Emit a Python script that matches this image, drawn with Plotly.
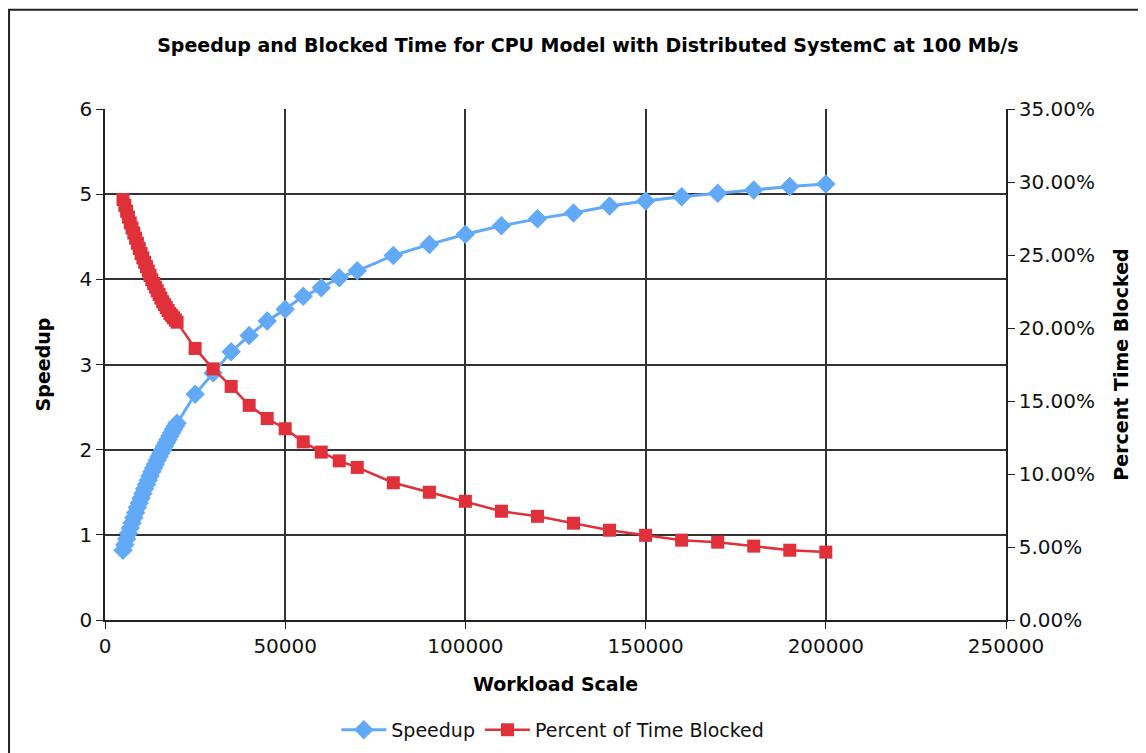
import plotly.graph_objects as go

workload = [5000, 5500, 6000, 6500, 7000, 7500, 8000, 8500, 9000, 9500, 10000,
            10500, 11000, 11500, 12000, 12500, 13000, 13500, 14000, 14500, 15000,
            15500, 16000, 16500, 17000, 17500, 18000, 18500, 19000, 19500, 20000,
            25000, 30000, 35000, 40000, 45000,
            50000, 55000, 60000, 65000, 70000, 80000, 90000, 100000, 110000, 120000,
            130000, 140000, 150000, 160000, 170000, 180000, 190000, 200000]

speedup = [0.82, 0.885, 0.95, 1.015, 1.08, 1.14, 1.20, 1.26, 1.32, 1.375, 1.43,
           1.485, 1.54, 1.59, 1.64, 1.69, 1.74, 1.785, 1.83, 1.875, 1.92,
           1.96, 2.00, 2.04, 2.08, 2.12, 2.16, 2.20, 2.24, 2.275, 2.31,
           2.65, 2.90, 3.15, 3.34, 3.51,
           3.65, 3.80, 3.90, 4.02, 4.10, 4.28, 4.41, 4.53, 4.63, 4.71,
           4.78, 4.86, 4.92, 4.97, 5.01, 5.05, 5.09, 5.12]

blocked = [0.288, 0.284, 0.280, 0.276, 0.272, 0.2685, 0.265, 0.2615, 0.258, 0.2545, 0.251,
           0.248, 0.245, 0.242, 0.239, 0.236, 0.233, 0.2305, 0.228, 0.2255, 0.223,
           0.2205, 0.218, 0.216, 0.214, 0.212, 0.210, 0.2085, 0.207, 0.2055, 0.204,
           0.186, 0.172, 0.160, 0.147, 0.138,
           0.131, 0.122, 0.115, 0.109, 0.1045, 0.094, 0.0875, 0.0813, 0.0745, 0.071,
           0.0663, 0.0615, 0.058, 0.0547, 0.0533, 0.0506, 0.0478, 0.0465]

title_text = "Speedup and Blocked Time for CPU Model with Distributed SystemC at 100 Mb/s"
x_ticks = [0, 50000, 100000, 150000, 200000, 250000]
y_ticks = [0, 1, 2, 3, 4, 5, 6]
y2_ticks = [0, 0.05, 0.10, 0.15, 0.20, 0.25, 0.30, 0.35]

BLUE = "#62a9f7"
RED = "#e0303a"
FONT = "DejaVu Sans"

fig = go.Figure()
fig.add_trace(go.Scatter(
    x=workload, y=speedup, name="Speedup", mode="lines+markers",
    line=dict(color=BLUE, width=3),
    marker=dict(symbol="diamond", size=15, color=BLUE),
))
fig.add_trace(go.Scatter(
    x=workload, y=blocked, name="Percent of Time Blocked", mode="lines+markers",
    yaxis="y2",
    line=dict(color=RED, width=2.5),
    marker=dict(symbol="square", size=13, color=RED),
))

axis_font = dict(family=FONT, size=20, color="#111")
title_font = dict(family=FONT, size=19, color="#000")
fig.update_layout(
    width=1146, height=753,
    paper_bgcolor="white", plot_bgcolor="white",
    margin=dict(l=97, r=148, t=101, b=141),
    title=dict(text="<b>" + title_text + "</b>", x=0.506, xanchor="center",
               y=1 - 37 / 753, yanchor="middle",
               font=dict(family=FONT, size=19, color="#000")),
    xaxis=dict(
        range=[0, 250000], tickvals=x_ticks, ticktext=[str(v) for v in x_ticks],
        showgrid=True, gridcolor="#333", gridwidth=1.5,
        showline=True, linecolor="#222", linewidth=1.5,
        ticks="outside", ticklen=7, tickcolor="#222",
        tickfont=axis_font, zeroline=False,
        title=dict(text="<b>Workload Scale</b>", font=title_font, standoff=21),
    ),
    yaxis=dict(
        range=[0, 6], tickvals=y_ticks,
        showgrid=True, gridcolor="#333", gridwidth=1.5,
        showline=True, linecolor="#222", linewidth=1.5,
        ticks="outside", ticklen=7, tickcolor="#222",
        tickfont=axis_font, zeroline=False,
        title=dict(text="<b>Speedup</b>", font=title_font, standoff=24),
    ),
    yaxis2=dict(
        range=[0, 0.35], tickvals=y2_ticks, tickformat=".2%",
        overlaying="y", side="right", showgrid=False,
        showline=True, linecolor="#222", linewidth=1.5,
        ticks="outside", ticklen=7, tickcolor="#222",
        tickfont=axis_font, zeroline=False,
        title=dict(text="<b>Percent Time Blocked</b>", font=title_font, standoff=21),
    ),
    legend=dict(orientation="h", x=0.497, xanchor="center", y=-0.215, yanchor="middle",
                font=dict(family=FONT, size=19, color="#111"),
                itemwidth=45, traceorder="normal"),
    showlegend=True,
    shapes=[dict(type="rect", xref="paper", yref="paper",
                 x0=-0.1065, x1=1.3, y0=-0.4, y1=1.194,
                 line=dict(color="#222", width=2), layer="below")],
)

fig.write_html("out.html")
